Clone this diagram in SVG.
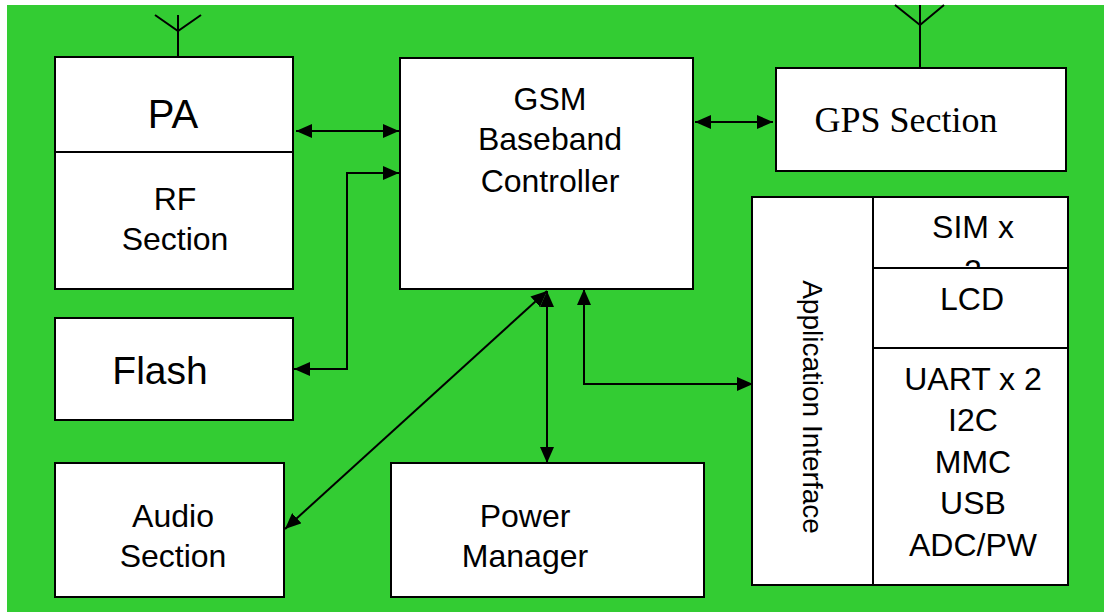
<svg xmlns="http://www.w3.org/2000/svg" width="1104" height="612" viewBox="0 0 1104 612">
<defs>
<style>
.box{fill:#fff;stroke:#000;stroke-width:2}
.ln{fill:none;stroke:#000;stroke-width:2}
.t{font-family:"Liberation Sans",Arial,sans-serif;font-size:32px;fill:#000;text-anchor:middle}
.ts{font-family:"Liberation Serif","Times New Roman",serif;font-size:36px;fill:#000;text-anchor:middle}
.c{fill:none;stroke:#000;stroke-width:2;marker-start:url(#ah);marker-end:url(#ah)}
</style>
<marker id="ah" viewBox="0 0 16 14" refX="16" refY="7" markerWidth="16" markerHeight="14" markerUnits="userSpaceOnUse" orient="auto-start-reverse"><path d="M0,0 L16,7 L0,14 z" fill="#000"/></marker>
<clipPath id="simclip"><rect x="873" y="197" width="195" height="71"/></clipPath>
</defs>
<rect x="7" y="5" width="1097" height="607" fill="#33CC33"/>
<g id="antenna1"><path class="ln" d="M178,15 V57 M155,15 L178,31 L201,15"/></g>
<g id="antenna2"><path class="ln" d="M920,5 V68 M895,5 L920,25 L944,5"/></g>
<g id="pa-rf">
<rect class="box" x="55" y="57" width="238" height="232"/>
<line class="ln" x1="55" y1="152" x2="293" y2="152"/>
<text class="t" x="173" y="128" style="font-size:40px">PA</text>
<text class="t" x="175" y="210">RF</text>
<text class="t" x="175" y="250">Section</text>
</g>
<g id="gsm">
<rect class="box" x="400" y="58" width="293" height="231"/>
<text class="t" x="550" y="110">GSM</text>
<text class="t" x="550" y="150">Baseband</text>
<text class="t" x="550" y="192">Controller</text>
</g>
<g id="gps">
<rect class="box" x="776" y="68" width="290" height="103"/>
<text class="ts" x="906" y="132">GPS Section</text>
</g>
<g id="flash">
<rect class="box" x="55" y="318" width="238" height="102"/>
<text class="t" x="160" y="384" style="font-size:39px">Flash</text>
</g>
<g id="audio">
<rect class="box" x="55" y="463" width="229" height="134"/>
<text class="t" x="173" y="527">Audio</text>
<text class="t" x="173" y="567">Section</text>
</g>
<g id="power">
<rect class="box" x="391" y="463" width="313" height="134"/>
<text class="t" x="525" y="527">Power</text>
<text class="t" x="525" y="567">Manager</text>
</g>
<g id="app-interface">
<rect class="box" x="752" y="197" width="121" height="388"/>
<text class="t" x="803" y="407" transform="rotate(90 803 407)" style="font-size:28px">Application Interface</text>
</g>
<g id="peripherals">
<rect class="box" x="873" y="197" width="195" height="388"/>
<line class="ln" x1="873" y1="268" x2="1068" y2="268"/>
<line class="ln" x1="873" y1="348" x2="1068" y2="348"/>
<text class="t" x="973" y="238">SIM x</text>
<text class="t" x="973" y="282" clip-path="url(#simclip)">2</text>
<text class="t" x="972" y="310">LCD</text>
<text class="t" x="973" y="390">UART x 2</text>
<text class="t" x="973" y="431">I2C</text>
<text class="t" x="973" y="473">MMC</text>
<text class="t" x="973" y="514">USB</text>
<text class="t" x="973" y="556">ADC/PW</text>
</g>
<g id="connectors">
<path class="c" d="M296,131 H399"/>
<path class="c" d="M399,173 H347 V369 H294"/>
<path class="c" d="M695,122 H773"/>
<path class="c" d="M547,291 L285,529"/>
<path class="c" d="M547,291 V463"/>
<path class="c" d="M584,289 V384 H753"/>
</g>
</svg>
